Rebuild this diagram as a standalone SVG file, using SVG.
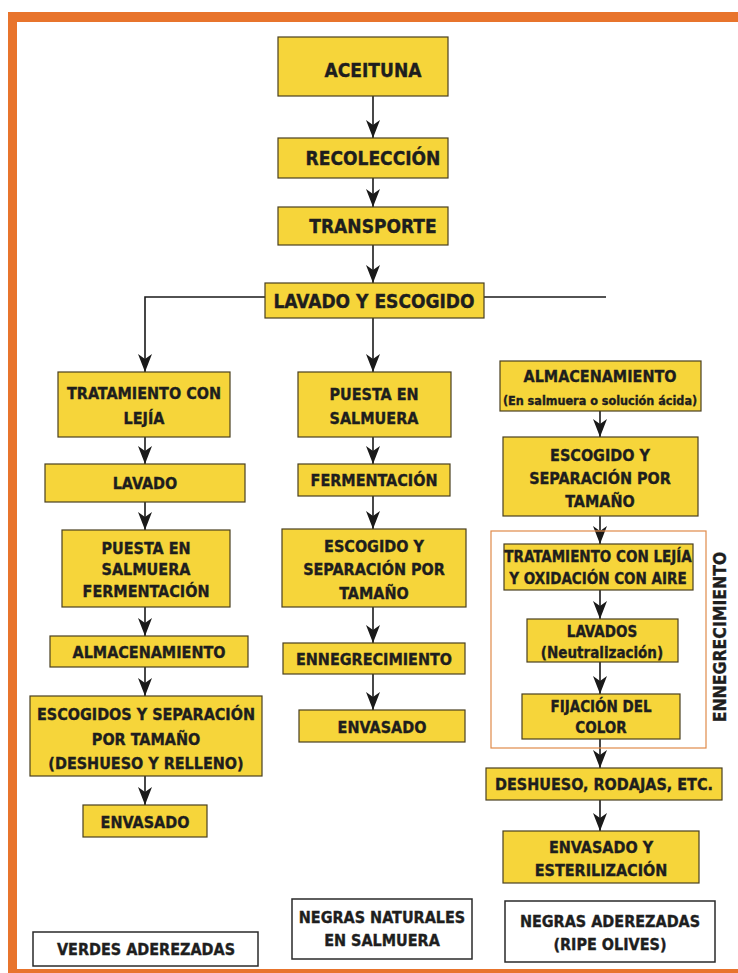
<svg xmlns="http://www.w3.org/2000/svg" width="738" height="973" viewBox="0 0 738 973">
<defs>
<marker id="ah" viewBox="0 0 18 14" refX="18" refY="7" markerWidth="18" markerHeight="14" markerUnits="userSpaceOnUse" orient="auto">
<path d="M0,0 L5,7 L0,14 L18,7 Z" fill="#1a1a1a"/>
</marker>
<style>
.box{fill:#F6D53A;stroke:#4a4020;stroke-width:1.2}
.wbox{fill:#ffffff;stroke:#2a2a2a;stroke-width:1.5}
text{font-family:"Liberation Sans Narrow","DejaVu Sans Condensed","Liberation Sans",sans-serif;font-weight:bold;fill:#1e1e1e;stroke:#1e1e1e;stroke-width:0.35;text-anchor:middle}
.t19{font-size:19px}
.t16{font-size:16px}
.t15{font-size:15px}
.t12{font-size:12.5px}
.tv{font-size:17.5px}
.ln{stroke:#1a1a1a;stroke-width:1.6;fill:none}
.ar{stroke:#1a1a1a;stroke-width:1.6;fill:none;marker-end:url(#ah)}
</style>
</defs>
<rect x="0" y="0" width="738" height="973" fill="#ffffff"/>
<g id="frame">
<rect x="8" y="12" width="730" height="10" fill="#E8742C"/>
<rect x="8" y="12" width="9" height="961" fill="#E8742C"/>
<rect x="8" y="969" width="730" height="4" fill="#E8742C"/>
</g>
<g id="connectors">
<path class="ar" d="M373,96 V138"/>
<path class="ar" d="M373,178 V207"/>
<path class="ar" d="M373,245 V283"/>
<path class="ar" d="M265,297 H145 V372"/>
<path class="ln" d="M484,297 H606"/>
<path class="ar" d="M373,318 V372"/>
<path class="ar" d="M145,437 V464"/>
<path class="ar" d="M145,502 V530"/>
<path class="ar" d="M145,607 V636"/>
<path class="ar" d="M145,667 V696"/>
<path class="ar" d="M145,776 V805"/>
<path class="ar" d="M373,437 V464"/>
<path class="ar" d="M373,496 V529"/>
<path class="ar" d="M373,607 V643"/>
<path class="ar" d="M373,674 V710"/>
<path class="ar" d="M600,411 V437"/>
<path class="ar" d="M600,516 V544"/>
<path class="ar" d="M600,590 V619"/>
<path class="ar" d="M600,662 V694"/>
<path class="ar" d="M600,739 V768"/>
<path class="ar" d="M600,800 V831"/>
</g>
<g id="ennegrecimiento-group">
<rect x="491" y="531" width="215" height="217" fill="none" stroke="#E08A4A" stroke-width="1.2"/>
<text class="tv" transform="translate(726,637) rotate(-90)">ENNEGRECIMIENTO</text>
</g>
<g id="aceituna"><rect class="box" x="278" y="37" width="170" height="59"/><text class="t19" x="373" y="77">ACEITUNA</text></g>
<g id="recoleccion"><rect class="box" x="278" y="138" width="170" height="40"/><text class="t19" x="373" y="165">RECOLECCIÓN</text></g>
<g id="transporte"><rect class="box" x="278" y="207" width="170" height="38"/><text class="t19" x="373" y="233">TRANSPORTE</text></g>
<g id="lavado-escogido"><rect class="box" x="265" y="283" width="219" height="35"/><text class="t19" x="374" y="308">LAVADO Y ESCOGIDO</text></g>

<g id="v-tratamiento"><rect class="box" x="58" y="372" width="172" height="65"/><text class="t16" x="144" y="399">TRATAMIENTO CON</text><text class="t16" x="144" y="424">LEJÍA</text></g>
<g id="v-lavado"><rect class="box" x="45" y="464" width="200" height="38"/><text class="t16" x="145" y="489">LAVADO</text></g>
<g id="v-puesta"><rect class="box" x="62" y="530" width="168" height="77"/><text class="t16" x="146" y="554">PUESTA EN</text><text class="t16" x="146" y="575">SALMUERA</text><text class="t16" x="146" y="597">FERMENTACIÓN</text></g>
<g id="v-almacenamiento"><rect class="box" x="50" y="636" width="198" height="31"/><text class="t16" x="149" y="658">ALMACENAMIENTO</text></g>
<g id="v-escogidos"><rect class="box" x="30" y="696" width="232" height="80"/><text class="t16" x="146" y="720">ESCOGIDOS Y SEPARACIÓN</text><text class="t16" x="146" y="745">POR TAMAÑO</text><text class="t16" x="146" y="769">(DESHUESO Y RELLENO)</text></g>
<g id="v-envasado"><rect class="box" x="83" y="805" width="124" height="32"/><text class="t16" x="145" y="828">ENVASADO</text></g>

<g id="n-puesta"><rect class="box" x="298" y="372" width="153" height="65"/><text class="t16" x="374" y="400">PUESTA EN</text><text class="t16" x="374" y="424">SALMUERA</text></g>
<g id="n-fermentacion"><rect class="box" x="298" y="464" width="152" height="32"/><text class="t16" x="374" y="486">FERMENTACIÓN</text></g>
<g id="n-escogido"><rect class="box" x="282" y="529" width="184" height="78"/><text class="t16" x="374" y="552">ESCOGIDO Y</text><text class="t16" x="374" y="575">SEPARACIÓN POR</text><text class="t16" x="374" y="599">TAMAÑO</text></g>
<g id="n-ennegrecimiento"><rect class="box" x="283" y="643" width="182" height="31"/><text class="t16" x="374" y="665">ENNEGRECIMIENTO</text></g>
<g id="n-envasado"><rect class="box" x="299" y="710" width="166" height="32"/><text class="t16" x="382" y="733">ENVASADO</text></g>

<g id="r-almacenamiento"><rect class="box" x="500" y="361" width="201" height="50"/><text class="t16" x="600" y="382">ALMACENAMIENTO</text><text class="t12" x="600" y="405">(En salmuera o solución ácida)</text></g>
<g id="r-escogido"><rect class="box" x="503" y="437" width="195" height="79"/><text class="t16" x="600" y="461">ESCOGIDO Y</text><text class="t16" x="600" y="484">SEPARACIÓN POR</text><text class="t16" x="600" y="507">TAMAÑO</text></g>
<g id="r-tratamiento"><rect class="box" x="504" y="544" width="189" height="46"/><text class="t15" x="598" y="562">TRATAMIENTO CON LEJÍA</text><text class="t15" x="598" y="584">Y OXIDACIÓN CON AIRE</text></g>
<g id="r-lavados"><rect class="box" x="527" y="619" width="151" height="43"/><text class="t15" x="602" y="637">LAVADOS</text><text class="t15" x="602" y="658">(Neutralización)</text></g>
<g id="r-fijacion"><rect class="box" x="522" y="694" width="158" height="45"/><text class="t15" x="601" y="712">FIJACIÓN DEL</text><text class="t15" x="601" y="733">COLOR</text></g>
<g id="r-deshueso"><rect class="box" x="486" y="768" width="236" height="32"/><text class="t16" x="604" y="790">DESHUESO, RODAJAS, ETC.</text></g>
<g id="r-envasado"><rect class="box" x="503" y="831" width="196" height="52"/><text class="t16" x="601" y="853">ENVASADO Y</text><text class="t16" x="601" y="876">ESTERILIZACIÓN</text></g>

<g id="l-verdes"><rect class="wbox" x="33" y="932" width="225" height="34"/><text class="t16" x="146" y="955">VERDES ADEREZADAS</text></g>
<g id="l-negras-naturales"><rect class="wbox" x="292" y="899" width="180" height="60"/><text class="t16" x="382" y="923">NEGRAS NATURALES</text><text class="t16" x="382" y="946">EN SALMUERA</text></g>
<g id="l-negras-aderezadas"><rect class="wbox" x="505" y="901" width="210" height="61"/><text class="t16" x="610" y="927">NEGRAS ADEREZADAS</text><text class="t16" x="610" y="950">(RIPE OLIVES)</text></g>
</svg>
